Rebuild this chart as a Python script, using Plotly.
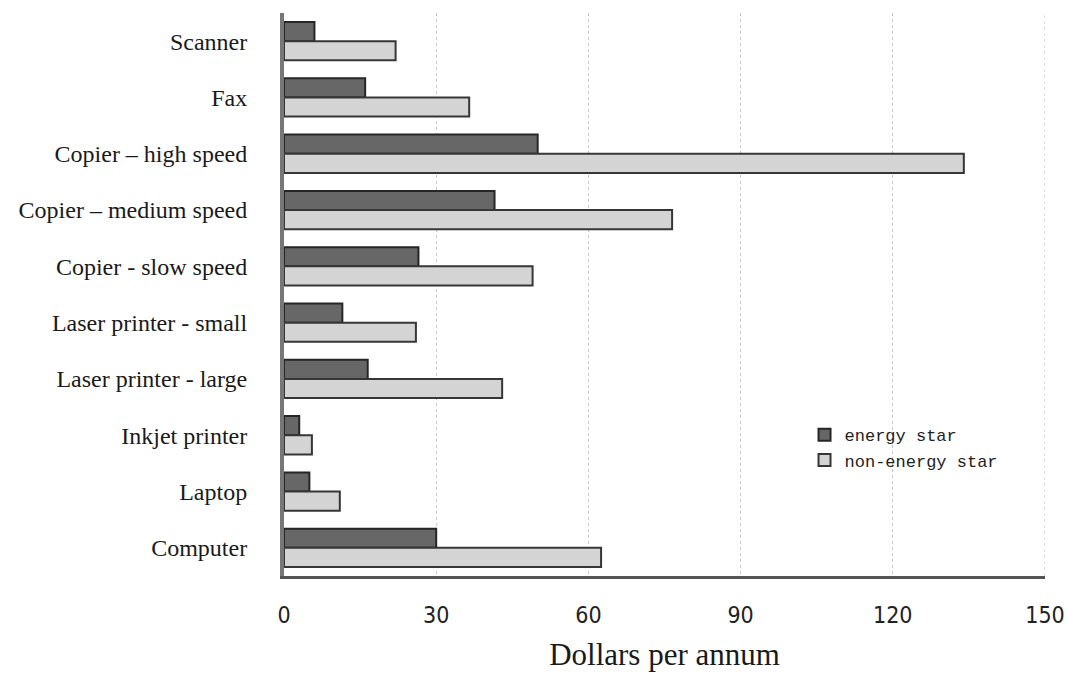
import plotly.graph_objects as go

# Office equipment annual running costs
categories = [
    "Scanner",
    "Fax",
    "Copier – high speed",
    "Copier – medium speed",
    "Copier - slow speed",
    "Laser printer - small",
    "Laser printer - large",
    "Inkjet printer",
    "Laptop",
    "Computer",
]
energy_star = [6, 16, 50, 41.5, 26.5, 11.5, 16.5, 3, 5, 30]
non_energy_star = [22, 36.5, 134, 76.5, 49, 26, 43, 5.5, 11, 62.5]
x_ticks = [0, 30, 60, 90, 120, 150]

serif = "Liberation Serif, DejaVu Serif, serif"

fig = go.Figure()
fig.add_trace(go.Bar(
    y=categories, x=energy_star, orientation="h", name="energy star",
    marker=dict(color="#676767", line=dict(color="#262626", width=2)),
))
fig.add_trace(go.Bar(
    y=categories, x=non_energy_star, orientation="h", name="non-energy star",
    marker=dict(color="#d4d4d4", line=dict(color="#363636", width=2)),
))

# dotted grid line at the right end of the value axis
fig.add_vline(x=x_ticks[-1], line=dict(color="#c0c0c0", width=1, dash="dot"))

fig.update_layout(
    width=1067, height=677,
    margin=dict(l=284, r=22, t=13, b=101),
    paper_bgcolor="white", plot_bgcolor="white",
    barmode="group", bargap=0.32, bargroupgap=0,
    font=dict(family=serif, color="#1a1a1a"),
    legend=dict(
        x=0.684, y=0.282, xanchor="left", yanchor="top",
        font=dict(family="Liberation Mono, DejaVu Sans Mono, monospace", size=17, color="#222"),
        bgcolor="rgba(0,0,0,0)", itemwidth=30, tracegroupgap=2,
    ),
    xaxis=dict(
        range=[0, 150], tickvals=x_ticks, automargin=False,
        tickfont=dict(family="Liberation Sans Narrow, DejaVu Sans Condensed, sans-serif",
                      size=23, color="#222"),
        ticklabelstandoff=16,
        showgrid=True, gridcolor="#c8c8c8", griddash="dot", gridwidth=1,
        showline=True, linecolor="#555", linewidth=3, zeroline=False,
        title=dict(text="Dollars per annum", font=dict(family=serif, size=31, color="#1a1a1a"),
                   standoff=17),
    ),
    yaxis=dict(
        autorange="reversed", type="category", automargin=False,
        tickfont=dict(family=serif, size=24, color="#1a1a1a"),
        ticklabelstandoff=28,
        showline=True, linecolor="#777", linewidth=4, zeroline=False, showgrid=False,
    ),
)

fig.write_html("out.html")
